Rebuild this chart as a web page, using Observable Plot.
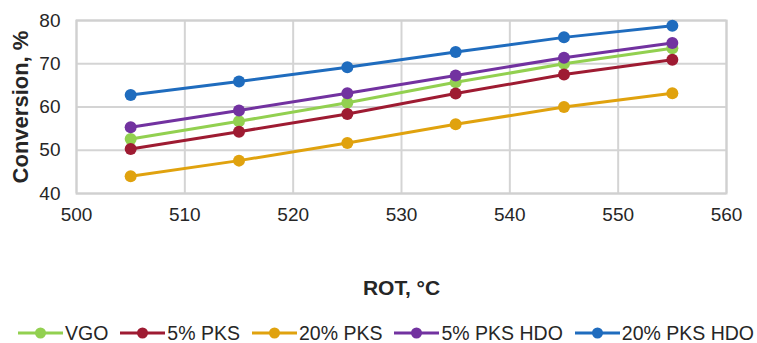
<!DOCTYPE html>
<html>
<head>
<meta charset="utf-8">
<script src="https://cdn.jsdelivr.net/npm/d3@7"></script>
<script src="https://cdn.jsdelivr.net/npm/@observablehq/plot@0.6"></script>
<style>
  html, body { margin: 0; padding: 0; background: #fff; }
  #wrap { width: 757px; font-family: "Liberation Sans", Arial, sans-serif; }
  #legend { display: flex; align-items: center; height: 30px; padding-left: 18px; font-size: 19.5px; color: #262626; white-space: nowrap; }
  .item { display: flex; align-items: center; margin-right: 12px; }
  .item svg { margin-right: 2px; }
</style>
</head>
<body>
<div id="wrap"></div>
<script>
const rot = [505, 515, 525, 535, 545, 555];
const seriesNames = ["VGO", "5% PKS", "20% PKS", "5% PKS HDO", "20% PKS HDO"];
const vgo       = [52.6, 56.7, 61.0, 65.7, 70.0, 73.6];
const pks5      = [50.3, 54.3, 58.4, 63.1, 67.5, 70.9];
const pks20     = [44.0, 47.6, 51.7, 56.0, 60.0, 63.2];
const pks5hdo   = [55.3, 59.2, 63.2, 67.3, 71.4, 74.8];
const pks20hdo  = [62.8, 65.9, 69.2, 72.7, 76.1, 78.8];
const colors = ["#92d050", "#9e1b32", "#e0a20e", "#7232a0", "#1f6cbe"];
const xTicks = [500, 510, 520, 530, 540, 550, 560];
const yTicks = [40, 50, 60, 70, 80];

const seriesValues = [vgo, pks5, pks20, pks5hdo, pks20hdo];
const data = [];
seriesNames.forEach((s, i) => rot.forEach((x, j) => data.push({series: s, x, y: seriesValues[i][j]})));

const plot = Plot.plot({
  width: 757,
  height: 318,
  marginTop: 20,
  marginBottom: 125,
  marginLeft: 76,
  marginRight: 31,
  style: {fontFamily: "Liberation Sans, Arial, sans-serif", fontSize: "19px", color: "#262626", background: "#fff"},
  x: {domain: [500, 560], ticks: xTicks, tickSize: 0, tickPadding: 14, label: null},
  y: {domain: [40, 80], ticks: yTicks, tickSize: 0, tickPadding: 16, label: null},
  color: {domain: seriesNames, range: colors},
  marks: [
    Plot.gridX(xTicks, {stroke: "#d4d4d4", strokeOpacity: 1, strokeWidth: 2}),
    Plot.gridY(yTicks, {stroke: "#d4d4d4", strokeOpacity: 1, strokeWidth: 2}),
    Plot.frame({stroke: "#d0d0d0", strokeWidth: 2}),
    Plot.line(data, {x: "x", y: "y", z: "series", stroke: "series", strokeWidth: 3}),
    Plot.dot(data, {x: "x", y: "y", fill: "series", r: 6}),
    Plot.text(["Conversion, %"], {frameAnchor: "left", dx: -56, rotate: -90, textAnchor: "middle", fontWeight: "bold", fontSize: 22, fill: "#262626"}),
    Plot.text(["ROT, °C"], {frameAnchor: "bottom", dy: 101, textAnchor: "middle", fontWeight: "bold", fontSize: 21, fill: "#262626"})
  ]
});

const wrap = document.getElementById("wrap");
wrap.appendChild(plot);

const legend = document.createElement("div");
legend.id = "legend";
seriesNames.forEach((s, i) => {
  const it = document.createElement("div");
  it.className = "item";
  it.innerHTML = `<svg width="45" height="14"><line x1="0" x2="45" y1="7" y2="7" stroke="${colors[i]}" stroke-width="3"/><circle cx="22.5" cy="7" r="5.5" fill="${colors[i]}"/></svg><span>${s}</span>`;
  legend.appendChild(it);
});
wrap.appendChild(legend);
</script>
</body>
</html>
